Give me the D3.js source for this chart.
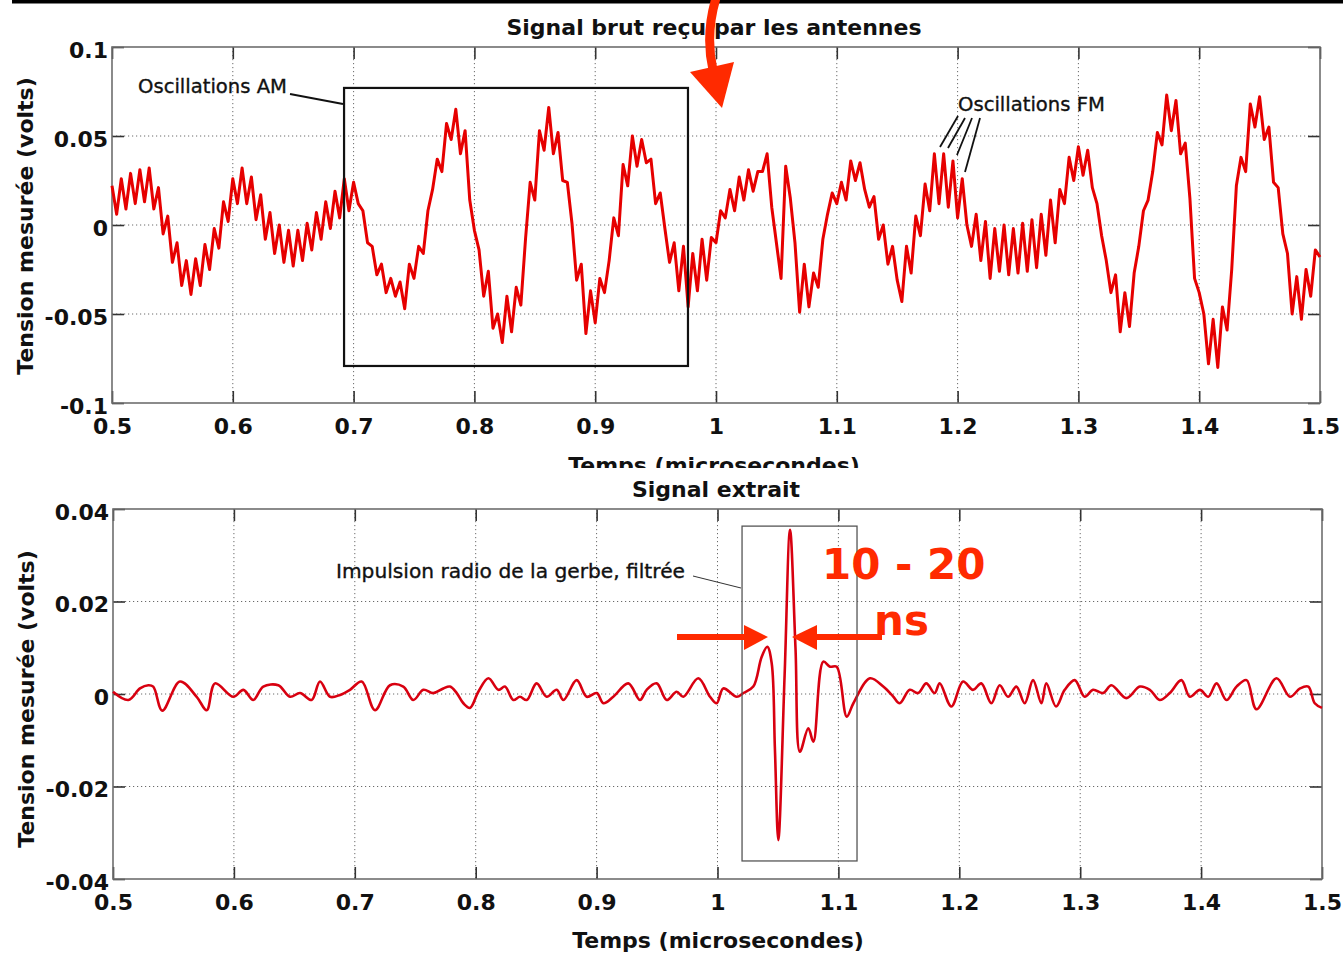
<!DOCTYPE html>
<html><head><meta charset="utf-8">
<script src="https://cdn.jsdelivr.net/npm/d3@7"></script>
<style>html,body{margin:0;padding:0;background:#fff;}svg{display:block;}</style>
</head><body>
<svg id="chart" width="1343" height="956"></svg>
<script>
// ---------- data ----------
const xTicks = [0.5,0.6,0.7,0.8,0.9,1.0,1.1,1.2,1.3,1.4,1.5];
const xTickLabels = ["0.5","0.6","0.7","0.8","0.9","1","1.1","1.2","1.3","1.4","1.5"];
const rawYTicks = [-0.1,-0.05,0,0.05,0.1];
const rawYTickLabels = ["-0.1","-0.05","0","0.05","0.1"];
const extYTicks = [-0.04,-0.02,0,0.02,0.04];
const extYTickLabels = ["-0.04","-0.02","0","0.02","0.04"];

const rawTitle = "Signal brut reçu par les antennes";
const extTitle = "Signal extrait";
const xTitle = "Temps (microsecondes)";
const yTitle = "Tension mesurée (volts)";

// raw antenna signal, sampled every 1/260 µs from 0.5 µs (volts)
const rawStart = 0.5, rawStep = 1/260;
const rawSignal = [
 0.022,0.006,0.026,0.009,0.029,0.012,0.031,0.013,0.032,0.009,
 0.021,-0.005,0.005,-0.021,-0.010,-0.034,-0.020,-0.039,-0.019,-0.034,
 -0.011,-0.025,-0.002,-0.013,0.013,0.002,0.026,0.012,0.032,0.012,
 0.027,0.003,0.017,-0.008,0.007,-0.016,0.000,-0.021,-0.003,-0.023,
 -0.003,-0.020,0.001,-0.014,0.007,-0.008,0.013,-0.002,0.019,0.004,
 0.026,0.008,0.024,0.012,0.008,-0.010,-0.012,-0.028,-0.022,-0.038,
 -0.030,-0.040,-0.032,-0.047,-0.022,-0.030,-0.012,-0.016,0.008,0.020,
 0.037,0.030,0.057,0.048,0.065,0.040,0.053,0.014,-0.003,-0.014,
 -0.040,-0.026,-0.058,-0.050,-0.066,-0.040,-0.060,-0.035,-0.045,-0.008,
 0.024,0.014,0.053,0.042,0.066,0.040,0.052,0.025,0.024,0.001,
 -0.031,-0.022,-0.061,-0.037,-0.055,-0.030,-0.038,-0.020,0.004,-0.006,
 0.034,0.022,0.050,0.033,0.048,0.035,0.037,0.012,0.018,-0.002,
 -0.021,-0.010,-0.037,-0.012,-0.046,-0.016,-0.037,-0.008,-0.031,-0.007,
 -0.010,0.008,0.004,0.020,0.008,0.027,0.014,0.031,0.019,0.030,
 0.030,0.040,0.010,-0.010,-0.030,0.033,0.015,-0.010,-0.049,-0.022,
 -0.046,-0.027,-0.035,-0.008,0.006,0.018,0.012,0.024,0.014,0.036,
 0.025,0.035,0.020,0.010,0.016,-0.008,0.000,-0.022,-0.012,-0.031,
 -0.043,-0.012,-0.027,0.005,-0.006,0.023,0.008,0.040,0.012,0.040,
 0.010,0.036,0.004,0.026,0.000,-0.012,0.006,-0.020,0.002,-0.030,
 -0.002,-0.026,0.000,-0.028,-0.002,-0.027,0.001,-0.026,0.003,-0.024,
 0.006,-0.017,0.014,-0.010,0.020,0.012,0.038,0.025,0.044,0.028,
 0.042,0.021,0.012,-0.006,-0.020,-0.038,-0.028,-0.060,-0.038,-0.057,
 -0.027,-0.012,0.008,0.014,0.030,0.052,0.045,0.073,0.053,0.070,
 0.040,0.046,0.015,-0.030,-0.038,-0.050,-0.078,-0.053,-0.080,-0.046,
 -0.059,-0.025,0.022,0.038,0.030,0.068,0.055,0.072,0.048,0.055,
 0.024,0.021,-0.005,-0.016,-0.050,-0.029,-0.053,-0.025,-0.040,-0.014,
 -0.018
];

// extracted (filtered) signal: time (µs) and value (volts)
const extTimes = [
 0.5000,0.5127,0.5223,0.5292,0.5333,0.5408,0.5554,0.5692,0.5775,0.5844,
 0.5995,0.6078,0.6160,0.6243,0.6367,0.6464,0.6547,0.6643,0.6712,0.6795,
 0.6878,0.6960,0.7057,0.7167,0.7291,0.7401,0.7484,0.7567,0.7649,0.7732,
 0.7787,0.7843,0.7898,0.7953,0.8022,0.8105,0.8188,0.8242,0.8311,0.8366,
 0.8422,0.8504,0.8587,0.8670,0.8725,0.8835,0.8918,0.9001,0.9056,0.9138,
 0.9262,0.9359,0.9414,0.9497,0.9580,0.9662,0.9717,0.9841,0.9938,0.9993,
 1.0048,1.0159,1.0213,1.0296,1.0365,1.0412,1.0448,1.0475,1.0503,1.0555,
 1.0600,1.0645,1.0682,1.0751,1.0793,1.0875,1.0931,1.0986,1.1069,1.1124,
 1.1261,1.1371,1.1452,1.1507,1.1590,1.1659,1.1727,1.1796,1.1838,1.1934,
 1.2031,1.2113,1.2182,1.2265,1.2334,1.2403,1.2472,1.2541,1.2610,1.2679,
 1.2720,1.2800,1.2872,1.2955,1.3037,1.3106,1.3189,1.3258,1.3382,1.3493,
 1.3576,1.3658,1.3741,1.3837,1.3907,1.3990,1.4059,1.4128,1.4210,1.4293,
 1.4376,1.4458,1.4624,1.4735,1.4818,1.4887,1.4940,1.5000
];
const extSignal = [
 0.0005,-0.0013,0.0012,0.0019,0.0016,-0.0036,0.0027,-0.0006,-0.0035,0.0023,
 -0.0006,0.0009,-0.0013,0.0016,0.0019,-0.0006,0.0002,-0.0013,0.0027,-0.0006,
 -0.0002,0.0009,0.0027,-0.0035,0.0019,0.0016,-0.0013,0.0009,0.0002,0.0012,
 0.0016,0.0002,-0.0020,-0.0030,0.0005,0.0034,0.0009,0.0016,-0.0013,-0.0006,
 -0.0013,0.0023,-0.0006,0.0009,-0.0013,0.0030,-0.0006,0.0002,-0.0020,-0.0006,
 0.0023,-0.0013,0.0009,0.0023,-0.0013,0.0005,-0.0006,0.0034,-0.0006,-0.0020,
 0.0012,-0.0006,0.0002,0.0016,0.0080,0.0102,0.0067,-0.0120,-0.0316,0.0040,
 0.0355,0.0100,-0.0125,-0.0074,-0.0103,0.0070,0.0059,0.0059,-0.0049,-0.0020,
 0.0034,0.0016,-0.0005,-0.0020,0.0009,0.0002,0.0023,0.0002,0.0023,-0.0027,
 0.0027,0.0009,0.0023,-0.0020,0.0019,-0.0006,0.0016,-0.0020,0.0030,-0.0020,
 0.0023,-0.0027,0.0009,0.0030,-0.0006,0.0009,0.0002,0.0019,-0.0009,0.0016,
 0.0009,-0.0013,0.0002,0.0030,-0.0006,0.0009,-0.0006,0.0023,-0.0013,0.0016,
 0.0030,-0.0033,0.0034,-0.0006,0.0012,0.0016,-0.0020,-0.0030
];

// ---------- drawing ----------
const svg = d3.select("#chart");
const W = 1343;
const tickFont = "'DejaVu Sans', sans-serif";
const annFont = "'DejaVu Sans', sans-serif";
const RED = "#ff2a00";

// black strip at top of the page
svg.append("rect").attr("x",12).attr("y",0).attr("width",W-12).attr("height",3.5).attr("fill","#000");

function panel(cfg){
  const {x,y,yTicks,yLabels,left,right,top,bottom} = cfg;
  const g = svg.append("g");
  // grid
  g.append("g").selectAll("line").data(xTicks.slice(1,-1)).join("line")
    .attr("x1",d=>x(d)).attr("x2",d=>x(d)).attr("y1",top).attr("y2",bottom)
    .attr("stroke","#6a6a6a").attr("stroke-width",1).attr("stroke-dasharray","1.2,2.8");
  g.append("g").selectAll("line").data(yTicks.slice(1,-1)).join("line")
    .attr("x1",left).attr("x2",right).attr("y1",d=>y(d)).attr("y2",d=>y(d))
    .attr("stroke","#6a6a6a").attr("stroke-width",1).attr("stroke-dasharray","1.2,2.8");
  // axes with inward ticks
  const gb = g.append("g").attr("transform",`translate(0,${bottom})`)
    .call(d3.axisBottom(x).tickValues(xTicks).tickSize(-12).tickSizeOuter(0).tickFormat((d,i)=>xTickLabels[i]));
  gb.selectAll("text").attr("y",31).attr("dy",0);
  const gt = g.append("g").attr("transform",`translate(0,${top})`)
    .call(d3.axisTop(x).tickValues(xTicks).tickSize(-12).tickSizeOuter(0).tickFormat(""));
  const gl = g.append("g").attr("transform",`translate(${left},0)`)
    .call(d3.axisLeft(y).tickValues(yTicks).tickSize(-12).tickSizeOuter(0).tickFormat((d,i)=>yLabels[i]));
  gl.selectAll("text").attr("x",-4).attr("dy",0).attr("y",10);
  const gr = g.append("g").attr("transform",`translate(${right},0)`)
    .call(d3.axisRight(y).tickValues(yTicks).tickSize(-12).tickSizeOuter(0).tickFormat(""));
  [gb,gt,gl,gr].forEach(a=>{
    a.select(".domain").remove();
    a.selectAll("line").attr("stroke","#333").attr("stroke-width",1.6);
    a.selectAll("text").attr("font-family",tickFont).attr("font-size",22).attr("font-weight","bold").attr("fill","#111");
  });
  // frame
  g.append("rect").attr("x",left).attr("y",top).attr("width",right-left).attr("height",bottom-top)
    .attr("fill","none").attr("stroke","#6e6e6e").attr("stroke-width",1.6);
  return g;
}

function annText(x0,y0,size,str){
  return svg.append("text").attr("x",x0).attr("y",y0).attr("font-family",annFont).attr("font-size",size)
    .attr("fill","#111").attr("stroke","#111").attr("stroke-width",0.35).text(str);
}

// ----- top panel -----
const xRaw = d3.scaleLinear().domain([0.5,1.5]).range([112,1320]);
const yRaw = d3.scaleLinear().domain([-0.1,0.1]).range([403,47]);
panel({x:xRaw,y:yRaw,yTicks:rawYTicks,yLabels:rawYTickLabels,left:112,right:1320,top:47,bottom:403});

svg.append("path").datum(rawSignal)
  .attr("d", d3.line().x((d,i)=>xRaw(rawStart+i*rawStep)).y(d=>yRaw(d)))
  .attr("fill","none").attr("stroke","#e60000").attr("stroke-width",3).attr("stroke-linejoin","round");

svg.append("text").attr("x",714).attr("y",35).attr("text-anchor","middle")
  .attr("font-family",tickFont).attr("font-weight","bold").attr("font-size",22).attr("fill","#111").text(rawTitle);

// top x label, partly hidden behind the lower panel
svg.append("clipPath").attr("id","cut").append("rect").attr("x",0).attr("y",0).attr("width",W).attr("height",468);
svg.append("text").attr("clip-path","url(#cut)").attr("x",714).attr("y",473).attr("text-anchor","middle")
  .attr("font-family",tickFont).attr("font-weight","bold").attr("font-size",22).attr("fill","#111").text(xTitle);

svg.append("text").attr("transform","translate(33,226) rotate(-90)").attr("text-anchor","middle")
  .attr("font-family",tickFont).attr("font-weight","bold").attr("font-size",22).attr("fill","#111").text(yTitle);

// AM annotation
svg.append("rect").attr("x",xRaw(0.6921)).attr("y",yRaw(0.077)).attr("width",xRaw(0.9768)-xRaw(0.6921)).attr("height",yRaw(-0.0792)-yRaw(0.077))
  .attr("fill","none").attr("stroke","#111").attr("stroke-width",2.2);
annText(138,93,19.6,"Oscillations AM");
svg.append("line").attr("x1",290).attr("y1",94).attr("x2",343).attr("y2",104).attr("stroke","#111").attr("stroke-width",1.8);

// FM annotation
annText(958,111,19.6,"Oscillations FM");
const fmLeaders = [[958,116,940,147],[965,118,948,148],[972,118,957,155],[980,118,965,172]];
svg.append("g").selectAll("line").data(fmLeaders).join("line")
  .attr("x1",d=>d[0]).attr("y1",d=>d[1]).attr("x2",d=>d[2]).attr("y2",d=>d[3])
  .attr("stroke","#111").attr("stroke-width",1.8);

// big red arrow from the top
svg.append("path").attr("d","M716,-2 Q705,35 713,70").attr("fill","none").attr("stroke",RED).attr("stroke-width",9);
svg.append("path").attr("d","M690,72 L734,62 L722,108 Z").attr("fill",RED);

// ----- bottom panel -----
const xExt = d3.scaleLinear().domain([0.5,1.5]).range([113,1322]);
const yExt = d3.scaleLinear().domain([-0.04,0.04]).range([879,509]);
// white background hides the lower part of the top axis title
svg.append("rect").attr("x",0).attr("y",468).attr("width",W).attr("height",956-468).attr("fill","#fff");
panel({x:xExt,y:yExt,yTicks:extYTicks,yLabels:extYTickLabels,left:113,right:1322,top:509,bottom:879});

svg.append("path").datum(extTimes.map((t,i)=>[t,extSignal[i]]))
  .attr("d", d3.line().x(d=>xExt(d[0])).y(d=>yExt(d[1])).curve(d3.curveCatmullRom.alpha(0.5)))
  .attr("fill","none").attr("stroke","#d80010").attr("stroke-width",2.6).attr("stroke-linejoin","round");

svg.append("text").attr("x",716).attr("y",497).attr("text-anchor","middle")
  .attr("font-family",tickFont).attr("font-weight","bold").attr("font-size",22).attr("fill","#111").text(extTitle);
svg.append("text").attr("x",718).attr("y",948).attr("text-anchor","middle")
  .attr("font-family",tickFont).attr("font-weight","bold").attr("font-size",22).attr("fill","#111").text(xTitle);
svg.append("text").attr("transform","translate(34,699) rotate(-90)").attr("text-anchor","middle")
  .attr("font-family",tickFont).attr("font-weight","bold").attr("font-size",22).attr("fill","#111").text(yTitle);

// pulse annotation
svg.append("rect").attr("x",xExt(1.0203)).attr("y",yExt(0.0363)).attr("width",xExt(1.1154)-xExt(1.0203)).attr("height",yExt(-0.0361)-yExt(0.0363))
  .attr("fill","none").attr("stroke","#555").attr("stroke-width",1.3);
annText(336,578,20.2,"Impulsion radio de la gerbe, filtrée");
svg.append("line").attr("x1",693).attr("y1",576).attr("x2",741).attr("y2",588).attr("stroke","#333").attr("stroke-width",1);

// red width marker
svg.append("text").attr("x",822).attr("y",579).attr("font-family","'DejaVu Sans', sans-serif").attr("font-weight","bold").attr("font-size",42).attr("fill",RED).text("10 - 20");
svg.append("text").attr("x",874).attr("y",635).attr("font-family","'DejaVu Sans', sans-serif").attr("font-weight","bold").attr("font-size",42).attr("fill",RED).text("ns");
svg.append("line").attr("x1",677).attr("y1",637).attr("x2",748).attr("y2",637).attr("stroke",RED).attr("stroke-width",6);
svg.append("path").attr("d","M744,625 L768,637 L744,650 Z").attr("fill",RED);
svg.append("line").attr("x1",812).attr("y1",637).attr("x2",882).attr("y2",637).attr("stroke",RED).attr("stroke-width",6);
svg.append("path").attr("d","M817,625 L792,637 L817,650 Z").attr("fill",RED);
</script>
</body></html>
